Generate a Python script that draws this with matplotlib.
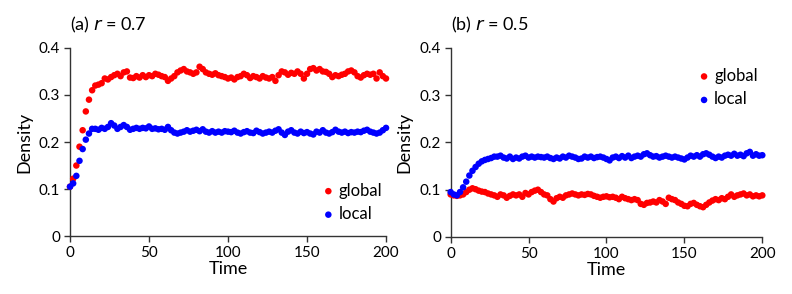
import numpy as np
import matplotlib
matplotlib.use("Agg")
import matplotlib.pyplot as plt

plt.rcParams['font.family'] = ['Lato', 'DejaVu Sans']

time = list(range(0, 201, 2))

a_global = [0.105, 0.122, 0.150, 0.190, 0.225, 0.265, 0.290, 0.310, 0.320, 0.322,
            0.325, 0.335, 0.333, 0.338, 0.342, 0.345, 0.340, 0.348, 0.350, 0.337,
            0.336, 0.340, 0.337, 0.342, 0.338, 0.342, 0.340, 0.345, 0.343, 0.340,
            0.338, 0.330, 0.335, 0.340, 0.348, 0.352, 0.355, 0.350, 0.348, 0.345,
            0.348, 0.360, 0.355, 0.348, 0.345, 0.343, 0.346, 0.342, 0.340, 0.338,
            0.335, 0.337, 0.333, 0.338, 0.340, 0.345, 0.342, 0.336, 0.340, 0.338,
            0.335, 0.340, 0.337, 0.335, 0.338, 0.330, 0.342, 0.350, 0.348, 0.343,
            0.347, 0.345, 0.350, 0.345, 0.335, 0.345, 0.355, 0.357, 0.352, 0.355,
            0.350, 0.349, 0.345, 0.338, 0.342, 0.340, 0.343, 0.345, 0.350, 0.352,
            0.348, 0.340, 0.337, 0.342, 0.345, 0.343, 0.345, 0.335, 0.348, 0.340,
            0.335]
a_local = [0.105, 0.112, 0.128, 0.160, 0.185, 0.205, 0.218, 0.228, 0.228, 0.226,
           0.230, 0.228, 0.232, 0.240, 0.235, 0.228, 0.232, 0.236, 0.232, 0.226,
           0.228, 0.230, 0.228, 0.230, 0.229, 0.233, 0.228, 0.229, 0.227, 0.228,
           0.226, 0.232, 0.225, 0.220, 0.218, 0.220, 0.222, 0.225, 0.222, 0.224,
           0.226, 0.223, 0.227, 0.222, 0.220, 0.223, 0.220, 0.222, 0.220, 0.223,
           0.222, 0.221, 0.224, 0.220, 0.218, 0.221, 0.223, 0.220, 0.219, 0.224,
           0.221, 0.218, 0.220, 0.222, 0.220, 0.224, 0.227, 0.220, 0.215, 0.222,
           0.225, 0.220, 0.218, 0.222, 0.219, 0.221, 0.218, 0.216, 0.222, 0.220,
           0.225, 0.220, 0.218, 0.221, 0.226, 0.222, 0.220, 0.222, 0.219, 0.221,
           0.220, 0.222, 0.221, 0.224, 0.226, 0.222, 0.220, 0.218, 0.220, 0.225,
           0.230]
b_global = [0.090, 0.088, 0.087, 0.088, 0.090, 0.095, 0.100, 0.103, 0.101, 0.098,
            0.096, 0.095, 0.092, 0.090, 0.088, 0.085, 0.090, 0.088, 0.083, 0.087,
            0.090, 0.088, 0.090, 0.085, 0.093, 0.090, 0.095, 0.098, 0.100, 0.095,
            0.090, 0.088, 0.080, 0.075, 0.082, 0.085, 0.083, 0.088, 0.090, 0.092,
            0.090, 0.088, 0.090, 0.089, 0.091, 0.090, 0.087, 0.085, 0.083, 0.085,
            0.086, 0.084, 0.085, 0.083, 0.080, 0.085, 0.082, 0.080, 0.078, 0.080,
            0.078, 0.070, 0.068, 0.072, 0.073, 0.075, 0.073, 0.078, 0.075, 0.070,
            0.083, 0.080, 0.078, 0.073, 0.070, 0.066, 0.065, 0.070, 0.072, 0.068,
            0.065, 0.063, 0.068, 0.073, 0.077, 0.080, 0.078, 0.082, 0.080, 0.085,
            0.090, 0.085, 0.088, 0.090, 0.092, 0.088, 0.090, 0.086, 0.088, 0.086,
            0.088]
b_local = [0.095, 0.090, 0.088, 0.095, 0.105, 0.117, 0.130, 0.140, 0.148, 0.155,
           0.160, 0.163, 0.165, 0.167, 0.170, 0.170, 0.172, 0.168, 0.166, 0.170,
           0.165, 0.168, 0.166, 0.170, 0.172, 0.168, 0.170, 0.168, 0.170, 0.169,
           0.168, 0.170, 0.167, 0.165, 0.168, 0.166, 0.170, 0.168, 0.172, 0.170,
           0.168, 0.165, 0.166, 0.170, 0.168, 0.170, 0.167, 0.169, 0.170, 0.168,
           0.165, 0.162, 0.168, 0.170, 0.167, 0.171, 0.168, 0.172, 0.167, 0.170,
           0.172, 0.170, 0.175, 0.177, 0.173, 0.170, 0.171, 0.168, 0.170, 0.172,
           0.170, 0.168, 0.170, 0.168, 0.166, 0.164, 0.168, 0.172, 0.170, 0.173,
           0.170, 0.175, 0.177, 0.174, 0.170, 0.167, 0.170, 0.168, 0.172, 0.174,
           0.172, 0.176, 0.172, 0.174, 0.171, 0.177, 0.180, 0.172, 0.175, 0.172,
           0.173]

xticks = [0, 50, 100, 150, 200]
yticks = [0, 0.1, 0.2, 0.3, 0.4]
yticklabels = ['0', '0.1', '0.2', '0.3', '0.4']

RED = '#ff0000'
BLUE = '#0000ff'

fig = plt.figure(figsize=(7.92, 2.94), dpi=100)
ax1 = fig.add_axes([0.0884, 0.197, 0.399, 0.640])
ax2 = fig.add_axes([0.569, 0.194, 0.3935, 0.643])

panels = [
    (ax1, a_global, a_local, 'a', '0.7', (0.77, 0.32)),
    (ax2, b_global, b_local, 'b', '0.5', (0.765, 0.93)),
]

for ax, g, l, tag, rval, lpos in panels:
    ax.scatter(time, g, s=22, color=RED, edgecolors='none', label='global', clip_on=False, zorder=3)
    ax.scatter(time, l, s=22, color=BLUE, edgecolors='none', label='local', clip_on=False, zorder=3)
    ax.set_xlim(0, 200)
    ax.set_ylim(0, 0.4)
    ax.set_xticks(xticks)
    ax.set_yticks(yticks)
    ax.set_yticklabels(yticklabels)
    for s in ['top', 'right']:
        ax.spines[s].set_visible(False)
    for s in ['left', 'bottom']:
        ax.spines[s].set_color('#333333')
        ax.spines[s].set_linewidth(1.0)
    ax.tick_params(direction='out', length=4, width=1, color='#333333', labelsize=11, pad=3)
    ax.set_xlabel('Time', fontsize=13, labelpad=1)
    ax.set_ylabel('Density', fontsize=13, labelpad=5)
    ax.text(0.0, 1.07, '(' + tag + ') $\\it{r}$ = ' + rval, transform=ax.transAxes,
            fontsize=13, ha='left', va='bottom')
    ax.legend(loc='upper left', bbox_to_anchor=lpos, frameon=False, fontsize=12,
              handletextpad=0.1, labelspacing=0.45, borderaxespad=0, markerscale=1.0,
              handlelength=1.0)

fig.savefig('out.png', dpi=100)
